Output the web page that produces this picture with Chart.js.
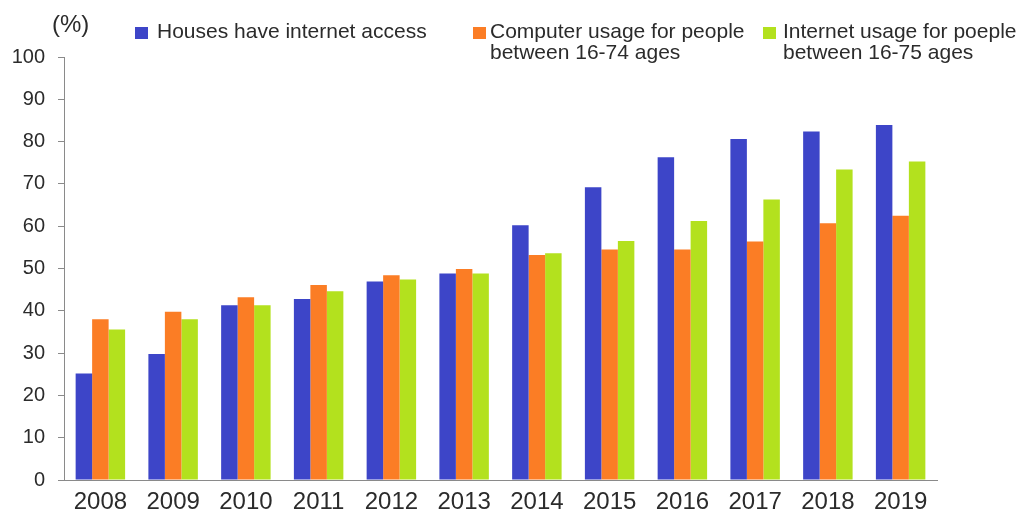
<!DOCTYPE html>
<html>
<head>
<meta charset="utf-8">
<script src="https://cdn.jsdelivr.net/npm/chart.js@4/dist/chart.umd.min.js"></script>
<style>
  html, body { margin: 0; padding: 0; background: #fff; }
  #wrap { width: 1036px; height: 510px; }
</style>
</head>
<body>
<div id="wrap"><canvas id="myChart" width="1036" height="510"></canvas></div>
<script>
/* data */
var years = ['2008', '2009', '2010', '2011', '2012', '2013', '2014', '2015', '2016', '2017', '2018', '2019'];
var houses = [25.2, 29.8, 41.3, 42.8, 46.9, 48.8, 60.2, 69.2, 76.3, 80.6, 82.4, 83.9];
var computer = [38.0, 39.8, 43.2, 46.1, 48.4, 49.9, 53.2, 54.5, 54.5, 56.4, 60.7, 62.5];
var internet = [35.6, 38.0, 41.3, 44.6, 47.4, 48.8, 53.6, 56.5, 61.2, 66.3, 73.4, 75.3];
var names = [
    ['Houses have internet access'],
    ['Computer usage for people', 'between 16-74 ages'],
    ['Internet usage for poeple', 'between 16-75 ages']
];
var colors = ['#3d45c8', '#fb7d25', '#b3e11e'];
var axisColor = '#8a8a8a';
var textColor = '#2b2b2b';

/* legend drawn by hand, the original has two-line entries */
var legendPos = [[135, 157], [473, 490], [763, 783]];
var handLegend = {
    id: 'handLegend',
    afterDraw: function(chart){
        var ctx = chart.ctx;
        ctx.save();
        ctx.fillStyle = textColor;
        ctx.font = '24px "Liberation Sans", Arial, sans-serif';
        ctx.textBaseline = 'alphabetic';
        ctx.fillText('(%)', 52, 32);
        ctx.font = '21px "Liberation Sans", Arial, sans-serif';
        chart.data.datasets.forEach(function(ds, i){
            var p = legendPos[i];
            ctx.fillStyle = ds.backgroundColor;
            ctx.fillRect(p[0], 27, 13, 12);
            ctx.fillStyle = textColor;
            names[i].forEach(function(line, j){
                ctx.fillText(line, p[1], 38 + j * 21);
            });
        });
        ctx.restore();
    }
};

var ctx = document.getElementById('myChart').getContext('2d');
var chart = new Chart(ctx, {
    type: 'bar',
    data: {
        labels: years,
        datasets: [
            { label: names[0].join(' '), data: houses, backgroundColor: colors[0] },
            { label: names[1].join(' '), data: computer, backgroundColor: colors[1] },
            { label: names[2].join(' '), data: internet, backgroundColor: colors[2] }
        ]
    },
    options: {
        responsive: false,
        animation: false,
        devicePixelRatio: 1,
        layout: { padding: { top: 57, right: 99, bottom: 0, left: 0 } },
        datasets: { bar: { categoryPercentage: 0.68, barPercentage: 1.0, borderWidth: 0 } },
        plugins: { legend: { display: false }, tooltip: { enabled: false } },
        scales: {
            x: {
                grid: { display: false },
                border: { display: true, color: axisColor, width: 1 },
                ticks: { color: textColor, padding: 0, font: { family: '"Liberation Sans", Arial, sans-serif', size: 24 } },
                afterFit: function(s){ s.height = 30; }
            },
            y: {
                min: 0,
                max: 100,
                grid: { drawOnChartArea: false, drawTicks: true, tickLength: 6, color: axisColor },
                border: { display: true, color: axisColor, width: 1 },
                ticks: { stepSize: 10, color: textColor, padding: 13, font: { family: '"Liberation Sans", Arial, sans-serif', size: 20 } },
                afterFit: function(s){ s.width = 64; }
            }
        }
    },
    plugins: [handLegend]
});
</script>
</body>
</html>
